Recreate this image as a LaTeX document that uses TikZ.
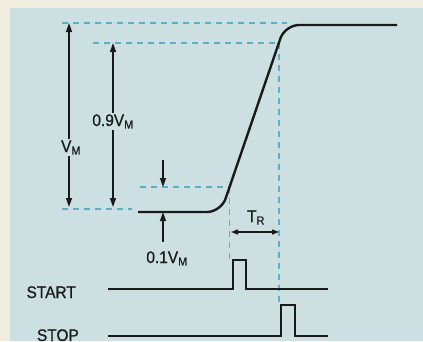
\documentclass[tikz,border=0pt]{standalone}
\usepackage{fontspec}
\setmainfont{Liberation Sans}
\newfontfamily\labelfont[FakeBold=0.8]{Liberation Sans}
\usetikzlibrary{arrows.meta}
\definecolor{PanelBlue}{HTML}{CCE0E2}
\definecolor{PaperCream}{HTML}{F2EEDF}
\definecolor{GuideCyan}{HTML}{5AAFC9}
\definecolor{TraceBlack}{HTML}{1A1A1A}
\newcommand{\narrowtxt}[1]{\scalebox{0.92}[1]{#1}}
\tikzset{
  guide/.style={GuideCyan,line width=1.1pt,dash pattern=on 6pt off 5pt},
  trace/.style={TraceBlack,line width=2.4pt,line join=round},
  dimline/.style={TraceBlack,line width=1.3pt},
  bigtip/.style={dimline,{Triangle[length=9pt,width=6pt]}-{Triangle[length=9pt,width=6pt]}},
  onetip/.style={dimline,-{Triangle[length=9pt,width=6pt]}},
  smalltip/.style={dimline,{Triangle[length=7pt,width=5pt]}-{Triangle[length=7pt,width=5pt]}},
  lbl/.style={font=\labelfont\fontsize{16.8}{18}\selectfont,text=TraceBlack,inner sep=1pt,anchor=base}
}
\begin{document}
\begin{tikzpicture}[x=1pt,y=-1pt]
\useasboundingbox (0,0) rectangle (423,341);
\fill[PaperCream] (0,0) rectangle (423,341);
\fill[PanelBlue] (10,8) rectangle (423,341);
% level and time guides
\draw[guide] (62,23)--(287,23);
\draw[guide] (93,43)--(279,43);
\draw[guide] (62,209)--(132,209);
\draw[guide] (140,187)--(229.5,187);
\draw[guide] (229.5,187)--(229.5,262);
\draw[guide] (279,43)--(279,305);
% output waveform
\draw[trace,rounded corners=14pt] (138,212)--(221,212)--(285,25)--(397,25);
% amplitude arrows
\coordinate (vmtop) at (69,23);
\coordinate (vmbot) at (69,207);
\coordinate (ninetop) at (113,43);
\coordinate (ninebot) at (113,207);
\draw[bigtip] (vmtop)--(vmbot);
\draw[bigtip] (ninetop)--(ninebot);
\node[lbl,fill=PanelBlue] (vm) at (71,152) {\narrowtxt{V\textsubscript{M}}};
\node[lbl,fill=PanelBlue] (ninevm) at (113,126) {\narrowtxt{0.9V\textsubscript{M}}};
% 10 percent marker
\coordinate (tenin) at (163,160);
\coordinate (tenhi) at (163,187);
\coordinate (tenout) at (163,242);
\coordinate (tenlo) at (163,212);
\draw[onetip] (tenin)--(tenhi);
\draw[onetip] (tenout)--(tenlo);
\node[lbl] (tenvm) at (167,263) {\narrowtxt{0.1V\textsubscript{M}}};
% rise time
\coordinate (trl) at (231,232);
\coordinate (trr) at (279,232);
\draw[smalltip] (trl)--(trr);
\node[lbl] (tr) at (256,222) {\narrowtxt{T\textsubscript{R}}};
% start and stop pulses
\node[lbl,anchor=base east] (start) at (77,298) {\narrowtxt{START}};
\node[lbl,anchor=base east] (stop) at (80,341) {\narrowtxt{STOP}};
\draw[trace,line width=2pt,line join=miter] (108,289)--(233,289)--(233,260)--(246,260)--(246,289)--(328,289);
\draw[trace,line width=2pt,line join=miter] (108,336)--(281,336)--(281,305)--(295,305)--(295,336)--(328,336);
\end{tikzpicture}
\end{document}
